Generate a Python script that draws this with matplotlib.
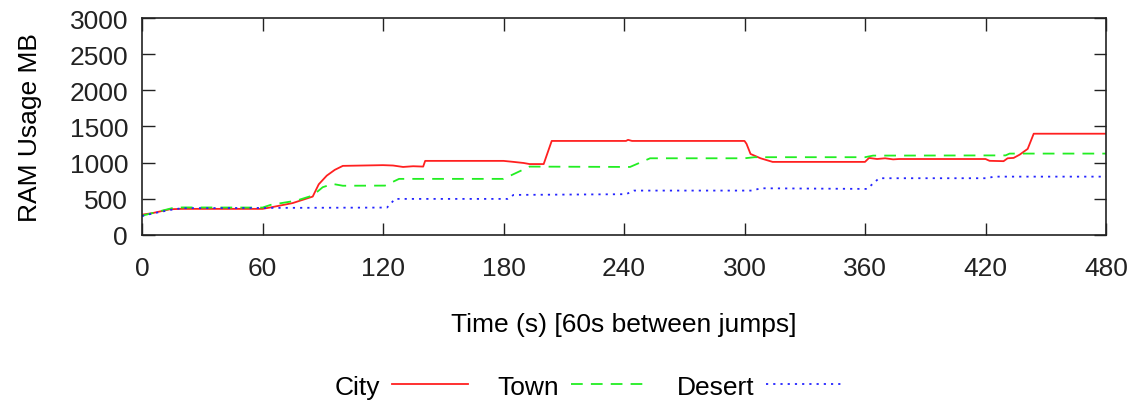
import numpy as np
import matplotlib
matplotlib.use('Agg')
import matplotlib.pyplot as plt

plt.rcParams['font.family'] = ['Liberation Sans', 'DejaVu Sans']

# time (s) and RAM usage (MB)
city_t = [0, 5, 14, 20, 60, 64, 75, 85, 88, 92, 96, 100, 120, 125, 130, 135, 140, 141, 180,
          185, 190, 193, 200, 204, 241, 242, 244, 300, 301, 303, 308, 314, 360, 362, 366,
          370, 374, 377, 420, 422, 429, 431, 434, 437, 441, 444, 480]
city_y = [280, 300, 355, 360, 360, 380, 440, 530, 700, 820, 900, 955, 965, 960, 940, 950, 945,
          1024, 1024, 1010, 995, 980, 980, 1300, 1300, 1315, 1300, 1300, 1260, 1120, 1060, 1010,
          1010, 1065, 1050, 1060, 1045, 1050, 1050, 1025, 1020, 1060, 1065, 1110, 1190, 1400, 1400]

town_t = [0, 5, 15, 20, 60, 64, 77, 85, 90, 95, 100, 121, 128, 180, 193, 243, 253, 300, 305,
          360, 364, 430, 432, 480]
town_y = [265, 300, 370, 380, 378, 415, 475, 545, 660, 705, 680, 682, 775, 775, 945, 940, 1060,
          1060, 1075, 1075, 1097, 1100, 1125, 1125]

desert_t = [0, 5, 15, 20, 122, 126, 182, 185, 241, 245, 304, 308, 361, 367, 421, 424, 480]
desert_y = [260, 295, 350, 370, 378, 498, 498, 553, 563, 613, 613, 645, 636, 784, 784, 806, 806]

xticks = [0, 60, 120, 180, 240, 300, 360, 420, 480]
yticks = [0, 500, 1000, 1500, 2000, 2500, 3000]

fig = plt.figure(figsize=(11.36, 4.06), dpi=100)
ax = fig.add_axes([0.125, 0.419, 0.8486, 0.534])

ax.plot(city_t, city_y, color='#ff2020', lw=1.3, label='City')
ax.plot(town_t, town_y, color='#22ee22', lw=1.3, dashes=(6.5, 4.5), label='Town')
ax.plot(desert_t, desert_y, color='#2424ff', lw=1.3, dashes=(1.2, 2.8), label='Desert')

ax.set_xlim(0, 480)
ax.set_ylim(0, 3000)
ax.set_xticks(xticks)
ax.set_yticks(yticks)
ax.tick_params(direction='in', length=9, width=1, top=True, right=True,
               labelsize=19, colors='#222222')
ax.tick_params(axis='x', pad=15)
ax.tick_params(axis='y', pad=10)
for s in ax.spines.values():
    s.set_linewidth(1.2)
    s.set_color('#222222')

ax.set_xlabel('Time (s) [60s between jumps]', fontsize=19, labelpad=23)
ax.set_ylabel('RAM Usage MB', fontsize=19, labelpad=20)

fig.legend(loc='center', bbox_to_anchor=(0.518, 0.045), ncol=3, frameon=False,
           markerfirst=False, fontsize=19, handlelength=2.9, columnspacing=1.1,
           handletextpad=0.45)

fig.savefig('out.png', dpi=100)
